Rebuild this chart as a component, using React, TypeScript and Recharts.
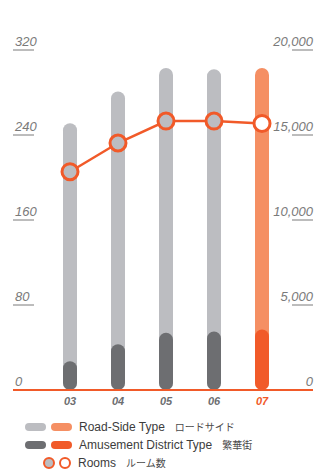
import React from "react";
import { ComposedChart, Bar, Line, XAxis, YAxis, Cell } from "recharts";

// fiscal years
const years = ["03", "04", "05", "06", "07"];
// store counts (left axis)
const roadSide = [224, 238, 249, 247, 246];
const amusement = [27, 43, 54, 55, 57];
// room counts (right axis)
const rooms = [12840, 14530, 15820, 15820, 15680];

const leftTicks = [0, 80, 160, 240, 320];
const rightTicks = [0, 5000, 10000, 15000, 20000];

const GRAY_LIGHT = "#bcbdc1";
const GRAY_DARK = "#6d6e71";
const ORANGE_LIGHT = "#f58f63";
const ORANGE = "#f15a29";
const LABEL = "#7a7a7a";

const data = years.map((y, i) => ({
  year: y,
  total: roadSide[i] + amusement[i],
  amusement: amusement[i],
  rooms: rooms[i],
}));

const lastIdx = years.length - 1;
const axisFont = "'Liberation Sans', Arial, sans-serif";

const LeftTick = (props: any) => {
  const { y, payload } = props;
  return (
    <g>
      <text x={15} y={y - 4} fill={LABEL} fontSize={13} fontStyle="italic" fontFamily={axisFont}>
        {payload.value}
      </text>
      {payload.value !== 0 && <line x1={13} x2={34} y1={y} y2={y} stroke={LABEL} strokeWidth={1} />}
    </g>
  );
};

const RightTick = (props: any) => {
  const { y, payload } = props;
  return (
    <g>
      <text x={313} y={y - 4} fill={LABEL} fontSize={13} fontStyle="italic" fontFamily={axisFont} textAnchor="end">
        {payload.value.toLocaleString("en-US")}
      </text>
      {payload.value !== 0 && <line x1={292} x2={313} y1={y} y2={y} stroke={LABEL} strokeWidth={1} />}
    </g>
  );
};

const YearTick = (props: any) => {
  const { x, y, payload, index } = props;
  return (
    <text
      x={x}
      y={y + 7}
      textAnchor="middle"
      fill={index === lastIdx ? ORANGE : GRAY_DARK}
      fontSize={11}
      fontWeight="bold"
      fontStyle="italic"
      fontFamily={axisFont}
    >
      {payload.value}
    </text>
  );
};

const RoomDot = (props: any) => {
  const { cx, cy, index } = props;
  return (
    <circle
      key={index}
      cx={cx}
      cy={cy}
      r={8}
      fill={index === lastIdx ? "#ffffff" : GRAY_LIGHT}
      stroke={ORANGE}
      strokeWidth={3}
    />
  );
};

const Pill = ({ color }: { color: string }) => (
  <span style={{ display: "inline-block", width: 21, height: 8, borderRadius: 4, background: color, marginRight: 5 }} />
);

const Ring = ({ fill }: { fill: string }) => (
  <span
    style={{
      display: "inline-block",
      width: 8,
      height: 8,
      borderRadius: "50%",
      background: fill,
      border: `2px solid ${ORANGE}`,
      marginRight: 4,
    }}
  />
);

const rowStyle: React.CSSProperties = {
  position: "absolute",
  display: "flex",
  alignItems: "center",
  fontFamily: axisFont,
  fontSize: 12,
  color: "#3c3c3c",
  whiteSpace: "nowrap",
};
const jpStyle: React.CSSProperties = {
  fontFamily: "'Noto Sans CJK JP', sans-serif",
  fontSize: 10,
  color: "#4a4a4a",
  marginLeft: 10,
};

export default function App() {
  return (
    <div style={{ position: "absolute", left: 0, top: 0, width: 332, height: 474, background: "#fff" }}>
      <ComposedChart
        width={332}
        height={416}
        data={data}
        margin={{ top: 50, right: 0, bottom: 0, left: 0 }}
        barGap={-14}
      >
        <XAxis
          dataKey="year"
          padding={{ left: 33, right: 27 }}
          axisLine={{ stroke: ORANGE, strokeWidth: 2 }}
          tickLine={false}
          tick={<YearTick />}
          height={26}
        />
        <YAxis
          yAxisId="left"
          domain={[0, 320]}
          ticks={leftTicks}
          width={13}
          axisLine={false}
          tickLine={false}
          tick={<LeftTick />}
        />
        <YAxis
          yAxisId="right"
          orientation="right"
          domain={[0, 20000]}
          ticks={rightTicks}
          width={19}
          axisLine={false}
          tickLine={false}
          tick={<RightTick />}
        />
        <Bar yAxisId="left" dataKey="total" barSize={14} radius={7} isAnimationActive={false}>
          {data.map((d, i) => (
            <Cell key={d.year} fill={i === lastIdx ? ORANGE_LIGHT : GRAY_LIGHT} />
          ))}
        </Bar>
        <Bar yAxisId="left" dataKey="amusement" barSize={14} radius={7} isAnimationActive={false}>
          {data.map((d, i) => (
            <Cell key={d.year} fill={i === lastIdx ? ORANGE : GRAY_DARK} />
          ))}
        </Bar>
        <Line
          yAxisId="right"
          dataKey="rooms"
          stroke={ORANGE}
          strokeWidth={2.5}
          dot={<RoomDot />}
          activeDot={false}
          isAnimationActive={false}
        />
      </ComposedChart>

      <div style={{ ...rowStyle, left: 25, top: 419 }}>
        <Pill color={GRAY_LIGHT} />
        <Pill color={ORANGE_LIGHT} />
        <span style={{ marginLeft: 2 }}>Road-Side Type</span>
        <span style={jpStyle}>ロードサイド</span>
      </div>
      <div style={{ ...rowStyle, left: 25, top: 437 }}>
        <Pill color={GRAY_DARK} />
        <Pill color={ORANGE} />
        <span style={{ marginLeft: 2 }}>Amusement District Type</span>
        <span style={jpStyle}>繁華街</span>
      </div>
      <div style={{ ...rowStyle, left: 43, top: 455 }}>
        <Ring fill={GRAY_LIGHT} />
        <Ring fill="#ffffff" />
        <span style={{ marginLeft: 3 }}>Rooms</span>
        <span style={jpStyle}>ルーム数</span>
      </div>
    </div>
  );
}
